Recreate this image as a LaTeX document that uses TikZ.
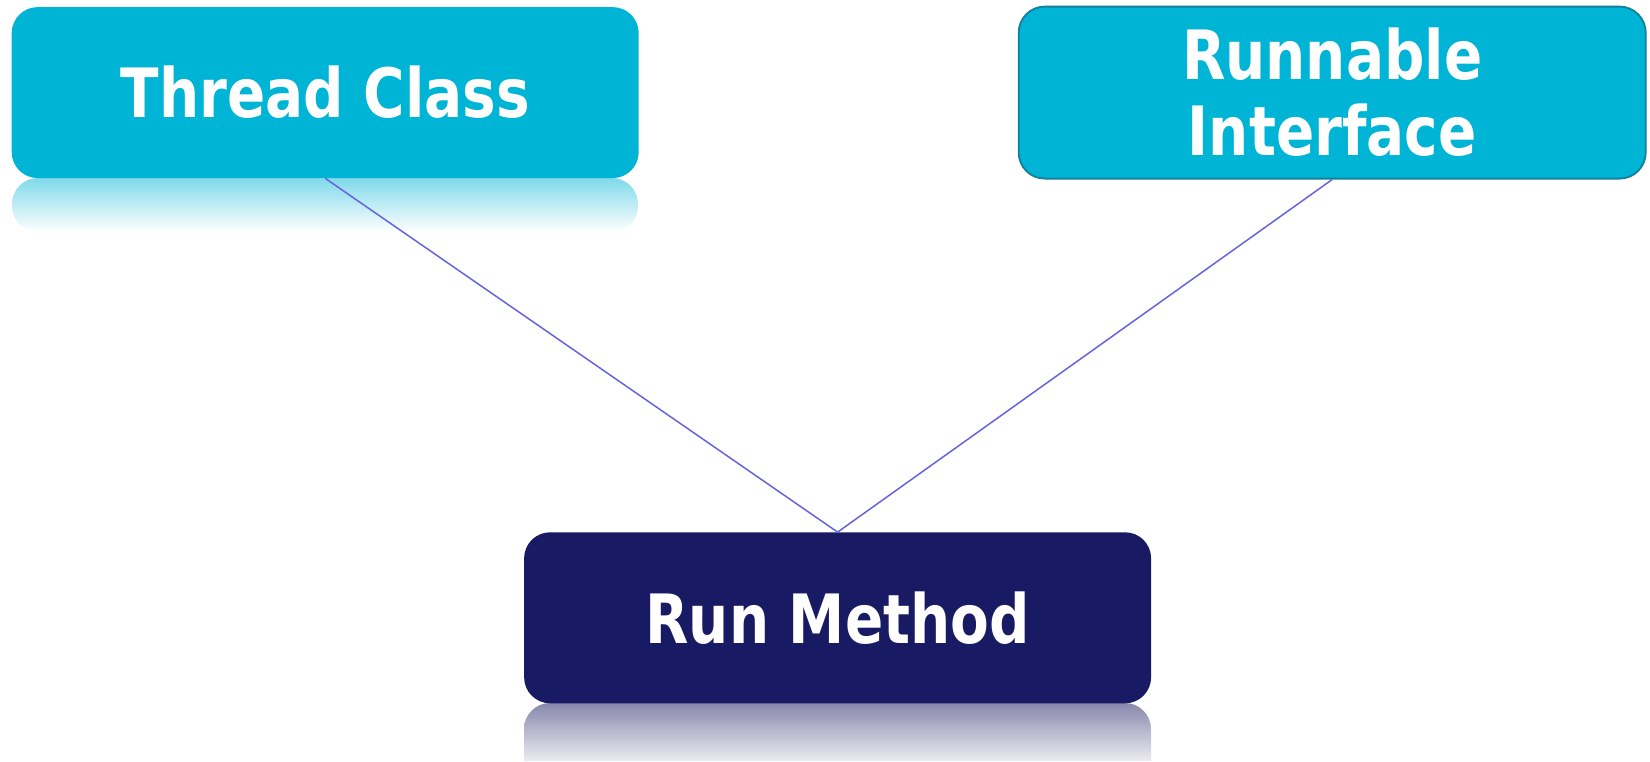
\documentclass[tikz,border=0pt]{standalone}
\usepackage{fontspec}
\newfontfamily\boxfont{DejaVu Sans}[FakeStretch=0.83]
\definecolor{boxcyan}{RGB}{0,180,213}
\definecolor{boxnavy}{RGB}{25,26,100}
\definecolor{cyanedge}{RGB}{18,128,154}
\definecolor{linkblue}{RGB}{100,100,220}
\tikzset{
  box/.style={rectangle, rounded corners=26pt, inner sep=0pt, minimum width=627pt,
    minimum height=171pt, align=center, text=white,
    font=\boxfont\bfseries\fontsize{68}{76}\selectfont},
  link/.style={draw=linkblue, line width=1.5pt},
}
\begin{document}
\begin{tikzpicture}[x=1pt,y=-1pt]
\useasboundingbox (0,0) rectangle (1650,761);
\clip (0,0) rectangle (1650,761);
% reflections
\path[top color=boxcyan!50!white, bottom color=white, rounded corners=26pt]
  (12,178) rectangle (638,232);
\path[top color={rgb,255:red,135;green,135;blue,172}, bottom color={rgb,255:red,236;green,236;blue,242}]
  (524,761) [rounded corners=26pt] -- (524,703) -- (1151,703) [sharp corners] -- (1151,761) -- cycle;
% boxes
\node[box, fill=boxcyan] (thread) at (325.2,92.6) {Thread Class};
\node[box, fill=boxcyan, draw=cyanedge, line width=1.8pt, minimum height=172pt] (runnable) at (1332.2,92.6) {Runnable\\Interface};
\node[box, fill=boxnavy] (run) at (837.6,617.8) {Run Method};
% connectors
\draw[link] (thread.south) -- (run.north);
\draw[link] (runnable.south) -- (run.north);
\end{tikzpicture}
\end{document}
